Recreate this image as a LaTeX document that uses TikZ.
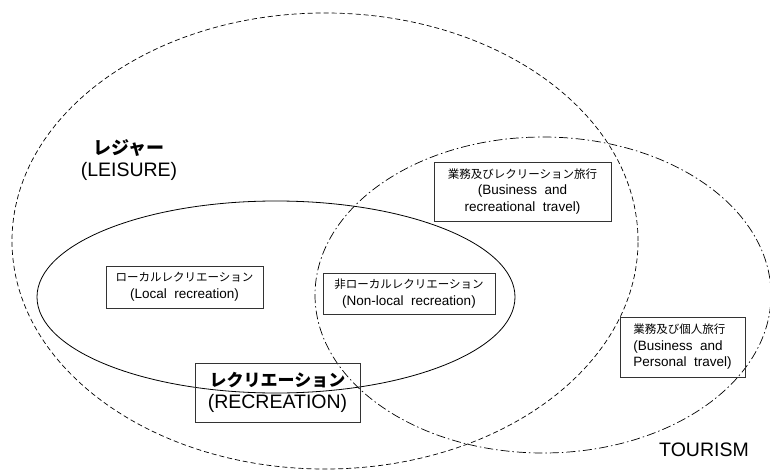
\documentclass[tikz,border=0pt]{standalone}
\usepackage{fontspec}
\setmainfont{Liberation Sans}
\newfontfamily\jp{Noto Sans CJK JP}
\begin{document}
\begin{tikzpicture}[x=1pt,y=1pt,
  smallbox/.style={draw=black!80, line width=0.8pt, inner sep=0pt, align=center,
     font=\fontsize{13.5}{16.5}\selectfont},
  bigbox/.style={draw=black!80, line width=0.8pt, inner sep=0pt, align=center,
     font=\fontsize{19.5}{22}\selectfont},
  bigtext/.style={align=center, font=\fontsize{19.5}{23}\selectfont},
  leisurecurve/.style={line width=0.7pt, dash pattern=on 5pt off 3pt},
  recreationcurve/.style={line width=0.8pt},
  tourismcurve/.style={line width=0.7pt, dash pattern=on 9pt off 3pt on 1.5pt off 3pt}]
\useasboundingbox (0,0) rectangle (770,472);
\begin{scope}
\clip (0,0) rectangle (770,472);
\draw[leisurecurve] (325,231) ellipse [x radius=313, y radius=228];
\draw[recreationcurve] (276,175) ellipse [x radius=239, y radius=96];
\draw[tourismcurve] (543,177) ellipse [x radius=228, y radius=158];
\end{scope}

\node[bigtext] (leisure) at (129,312) {{\jp\bfseries\fontsize{18}{20}\selectfont レジャー}\\[-1pt](LEISURE)};

\node[smallbox, minimum width=157, minimum height=42] (local) at (184.5,185)
  {{\jp\fontsize{11.5}{13}\selectfont ローカルレクリエーション}\\(Local\ \ recreation)};

\node[smallbox, minimum width=172, minimum height=41] (nonlocal) at (409,178.5)
  {{\jp\fontsize{11.5}{13}\selectfont 非ローカルレクリエーション}\\(Non-local\ \ recreation)};

\node[bigbox, minimum width=165, minimum height=59] (recreation) at (277.5,79.5)
  {{\jp\bfseries\fontsize{17}{19}\selectfont レクリエーション}\\(RECREATION)};

\node[smallbox, minimum width=177, minimum height=59] (busrec) at (522.5,280.5)
  {{\jp\fontsize{11.5}{13}\selectfont 業務及びレクリーション旅行}\\(Business\ \ and\\recreational\ \ travel)};

\node[smallbox, align=left, minimum width=125, minimum height=60] (buspers) at (682.5,125)
  {{\jp\fontsize{11.5}{13}\selectfont 業務及び個人旅行}\\(Business\ \ and\\Personal\ \ travel)};

\node[font=\fontsize{19.5}{22}\selectfont] (tourism) at (704,22) {TOURISM};
\end{tikzpicture}
\end{document}
